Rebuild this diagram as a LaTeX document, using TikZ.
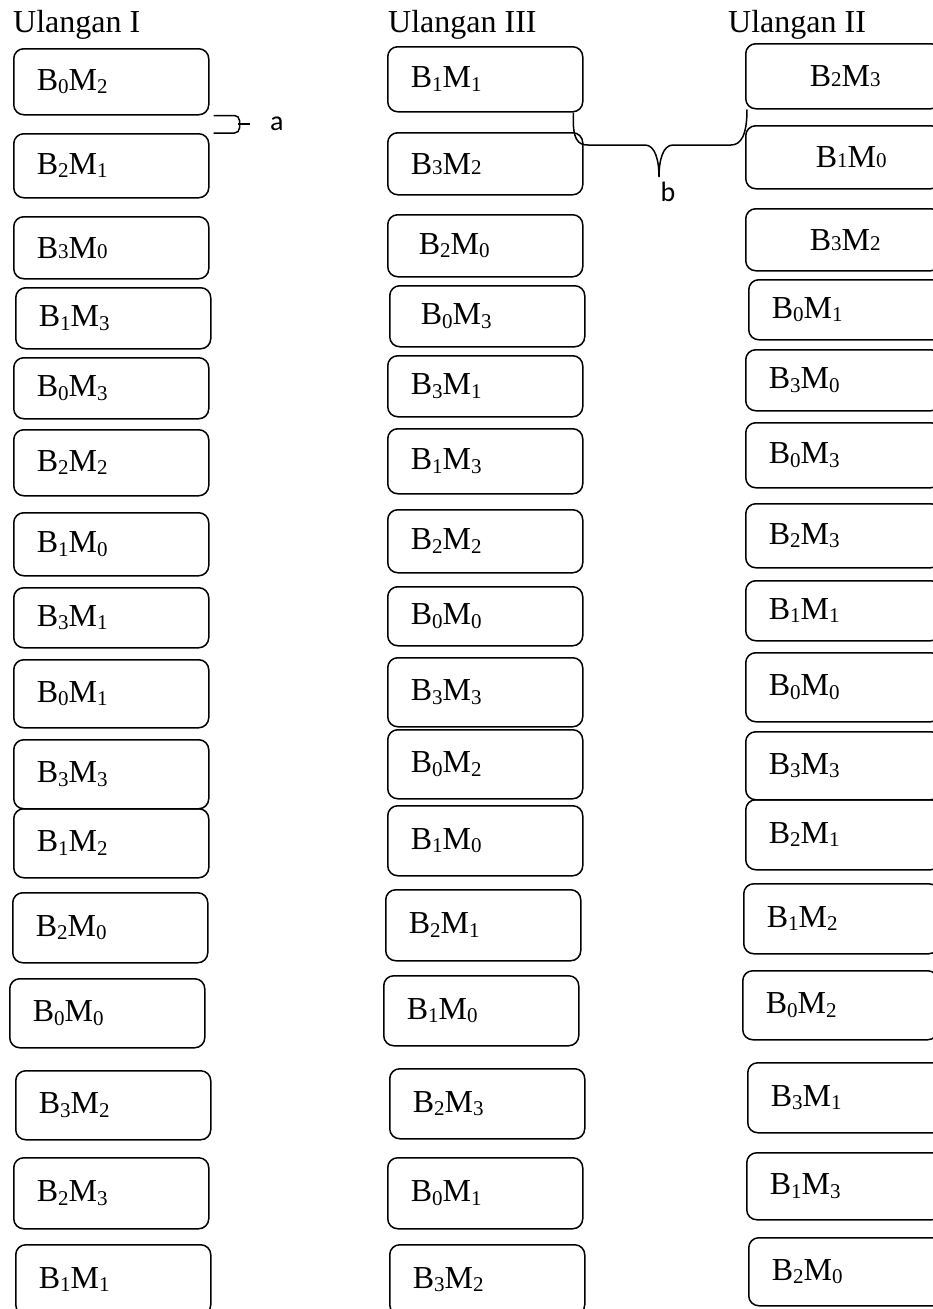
\documentclass[tikz,border=0pt]{standalone}
\usepackage{fontspec}
\setmainfont{Liberation Serif}
\newfontfamily\tagfont{Carlito}
\usetikzlibrary{calc}

\newcommand{\dsub}[1]{\raisebox{-3.5pt}{\fontsize{21}{21}\selectfont #1}}
\newcommand{\dflat}[1]{{\fontsize{21}{21}\selectfont #1}}

\begin{document}
\begin{tikzpicture}[
  x=1pt, y=-1pt,
  every node/.style={font=\fontsize{32}{38}\selectfont},
  cell/.style={
    draw=black,
    line width=1.5pt,
    rounded corners=10pt,
    anchor=north west,
    minimum width=195pt,
    text width=149pt,
    inner xsep=23pt,
    align=left
  },
  title/.style={anchor=base west, inner sep=0pt},
  brace/.style={line width=1.5pt},
  tag/.style={font=\tagfont\fontsize{28}{32}\selectfont, inner sep=0pt}
]
\useasboundingbox (0,0) rectangle (933,1309);
\clip (0,0) rectangle (933,1309);

% Titles
\node[title] (t1) at (13,32) {Ulangan I};
\node[title] (t3) at (388,32) {Ulangan III};
\node[title] (t2) at (728,32) {Ulangan II};

% Ulangan I
\node[cell, minimum height=66] (ul1-1) at (13,48) {B\dsub{0}M\dsub{2}};
\node[cell, minimum height=64] (ul1-2) at (13,133) {B\dsub{2}M\dsub{1}};
\node[cell, minimum height=62] (ul1-3) at (13,216) {B\dflat{3}M\dflat{0}};
\node[cell, minimum height=61] (ul1-4) at (15,287) {B\dsub{1}M\dsub{3}};
\node[cell, minimum height=61] (ul1-5) at (13,357) {B\dsub{0}M\dsub{3}};
\node[cell, minimum height=66] (ul1-6) at (13,429) {B\dsub{2}M\dsub{2}};
\node[cell, minimum height=63] (ul1-7) at (13,512) {B\dsub{1}M\dsub{0}};
\node[cell, minimum height=60] (ul1-8) at (13,587) {B\dsub{3}M\dsub{1}};
\node[cell, minimum height=68] (ul1-9) at (13,659) {B\dsub{0}M\dsub{1}};
\node[cell, minimum height=69] (ul1-10) at (13,739) {B\dsub{3}M\dsub{3}};
\node[cell, minimum height=69] (ul1-11) at (13,808) {B\dsub{1}M\dsub{2}};
\node[cell, minimum height=70] (ul1-12) at (12,892) {B\dsub{2}M\dsub{0}};
\node[cell, minimum height=69] (ul1-13) at (9,978) {B\dsub{0}M\dsub{0}};
\node[cell, minimum height=69] (ul1-14) at (15,1070) {B\dsub{3}M\dsub{2}};
\node[cell, minimum height=71] (ul1-15) at (13,1157) {B\dsub{2}M\dsub{3}};
\node[cell, minimum height=70] (ul1-16) at (15,1244) {B\dsub{1}M\dsub{1}};

% Ulangan III
\node[cell, minimum height=65] (ul3-1) at (387,46) {B\dsub{1}M\dsub{1}};
\node[cell, minimum height=62] (ul3-2) at (387,132) {B\dflat{3}M\dflat{2}};
\node[cell, minimum height=62] (ul3-3) at (387,214) {\hspace*{8pt}B\dsub{2}M\dsub{0}};
\node[cell, minimum height=61] (ul3-4) at (389,285) {\hspace*{8pt}B\dsub{0}M\dsub{3}};
\node[cell, minimum height=61] (ul3-5) at (387,355) {B\dsub{3}M\dsub{1}};
\node[cell, minimum height=65] (ul3-6) at (387,428) {B\dsub{1}M\dsub{3}};
\node[cell, minimum height=63] (ul3-7) at (387,509) {B\dsub{2}M\dsub{2}};
\node[cell, minimum height=59] (ul3-8) at (387,586) {B\dsub{0}M\dsub{0}};
\node[cell, minimum height=69] (ul3-9) at (387,657) {B\dsub{3}M\dsub{3}};
\node[cell, minimum height=69] (ul3-10) at (387,729) {B\dsub{0}M\dsub{2}};
\node[cell, minimum height=70] (ul3-11) at (387,805) {B\dsub{1}M\dsub{0}};
\node[cell, minimum height=71] (ul3-12) at (385,889) {B\dsub{2}M\dsub{1}};
\node[cell, minimum height=70] (ul3-13) at (383,975) {B\dsub{1}M\dsub{0}};
\node[cell, minimum height=70] (ul3-14) at (389,1068) {B\dsub{2}M\dsub{3}};
\node[cell, minimum height=71] (ul3-15) at (387,1157) {B\dsub{0}M\dsub{1}};
\node[cell, minimum height=70] (ul3-16) at (389,1244) {B\dsub{3}M\dsub{2}};

% Ulangan II
\node[cell, minimum height=65] (ul2-1) at (745,43) {\hspace*{41pt}B\dflat{2}M\dflat{3}};
\node[cell, minimum height=63] (ul2-2) at (745,125) {\hspace*{47pt}B\dflat{1}M\dflat{0}};
\node[cell, minimum height=62] (ul2-3) at (745,208) {\hspace*{41pt}B\dflat{3}M\dflat{2}};
\node[cell, minimum height=60] (ul2-4) at (748,279) {B\dsub{0}M\dsub{1}};
\node[cell, minimum height=61] (ul2-5) at (745,349) {B\dsub{3}M\dsub{0}};
\node[cell, minimum height=65] (ul2-6) at (745,422) {B\dsub{0}M\dsub{3}};
\node[cell, minimum height=64] (ul2-7) at (745,503) {B\dsub{2}M\dsub{3}};
\node[cell, minimum height=60] (ul2-8) at (745,580) {B\dsub{1}M\dsub{1}};
\node[cell, minimum height=69] (ul2-9) at (745,652) {B\dsub{0}M\dsub{0}};
\node[cell, minimum height=68] (ul2-10) at (745,731) {B\dsub{3}M\dsub{3}};
\node[cell, minimum height=70] (ul2-11) at (745,799) {B\dsub{2}M\dsub{1}};
\node[cell, minimum height=70] (ul2-12) at (743,883) {B\dsub{1}M\dsub{2}};
\node[cell, minimum height=69] (ul2-13) at (742,970) {B\dsub{0}M\dsub{2}};
\node[cell, minimum height=70] (ul2-14) at (747,1062) {B\dsub{3}M\dsub{1}};
\node[cell, minimum height=67] (ul2-15) at (746,1152) {B\dsub{1}M\dsub{3}};
\node[cell, minimum height=68] (ul2-16) at (748,1237) {B\dsub{2}M\dsub{0}};

% Braces
\node[tag, anchor=west] (a) at (270,124) {a};
\node[tag] (b) at (668,192) {b};

\draw[brace, rounded corners=5pt] ([xshift=4pt]ul1-1.south east) -- ++(26,0) |- ([xshift=4pt]ul1-2.north east);
\draw[brace] (238,124) -- ([xshift=-20pt]a.west);

\draw[brace] ([xshift=-10pt]ul3-1.south east)
  .. controls (572,140) and (578,145) .. (588,145) -- (645,145)
  .. controls (655,145) and (659,160) .. (659,177)
  .. controls (659,160) and (663,145) .. (673,145) -- (731,145)
  .. controls (741,145) and (747,135) .. ([xshift=2pt]ul2-1.south west);

\end{tikzpicture}
\end{document}
